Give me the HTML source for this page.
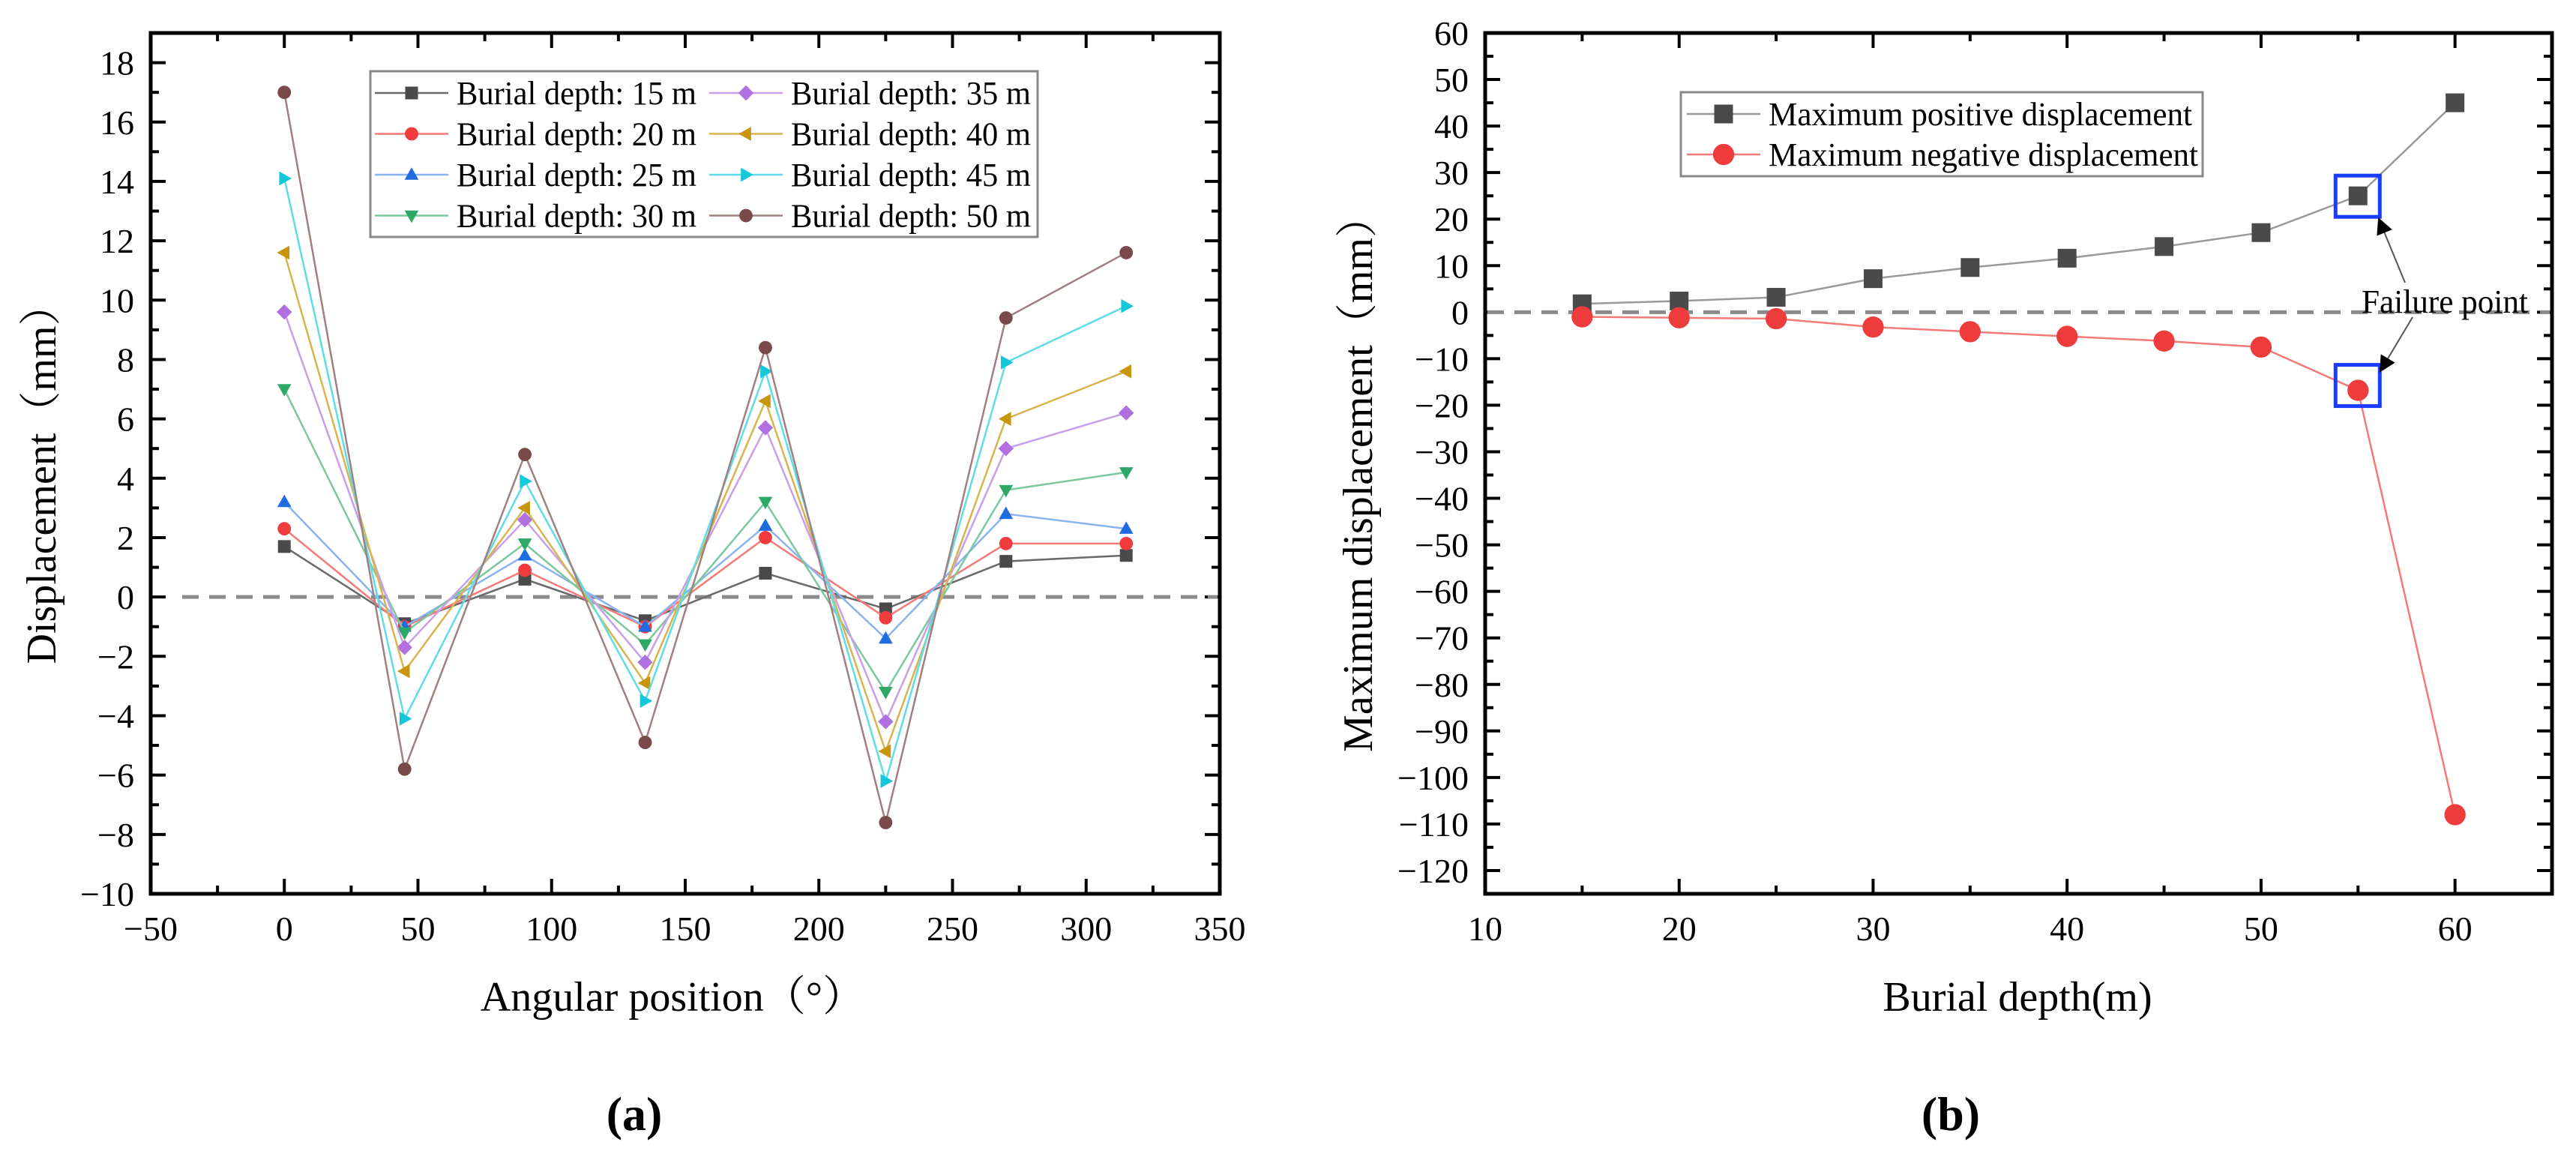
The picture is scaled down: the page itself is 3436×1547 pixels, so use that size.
<!DOCTYPE html>
<html><head><meta charset="utf-8"><style>
html,body{margin:0;padding:0;background:#fff;}
svg{display:block;font-family:"Liberation Serif","Noto Serif CJK SC",serif;}
</style></head><body>
<svg id="fig" width="3436" height="1547" viewBox="0 0 3436 1547" xmlns="http://www.w3.org/2000/svg"></svg>
<script>
// ---- Chart (a) data ----
const anglesA = [0,45,90,135,180,225,270,315];
const labelsA = ["Burial depth: 15 m","Burial depth: 20 m","Burial depth: 25 m","Burial depth: 30 m","Burial depth: 35 m","Burial depth: 40 m","Burial depth: 45 m","Burial depth: 50 m"];
const d15 = [1.7,-0.9,0.6,-0.8,0.8,-0.4,1.2,1.4];
const d20 = [2.3,-1.0,0.9,-1.0,2.0,-0.7,1.8,1.8];
const d25 = [3.2,-1.0,1.4,-1.0,2.4,-1.4,2.8,2.3];
const d30 = [7.0,-1.2,1.8,-1.6,3.2,-3.2,3.6,4.2];
const d35 = [9.6,-1.7,2.6,-2.2,5.7,-4.2,5.0,6.2];
const d40 = [11.6,-2.5,3.0,-2.9,6.6,-5.2,6.0,7.6];
const d45 = [14.1,-4.1,3.9,-3.5,7.6,-6.2,7.9,9.8];
const d50 = [17.0,-5.8,4.8,-4.9,8.4,-7.6,9.4,11.6];
const xTicksA = [-50,0,50,100,150,200,250,300,350];
const yTicksA = [-10,-8,-6,-4,-2,0,2,4,6,8,10,12,14,16,18];
// ---- Chart (b) data ----
const depthsB = [15,20,25,30,35,40,45,50,55,60];
const posB = [1.8,2.4,3.2,7.2,9.6,11.6,14.1,17.1,25,45];
const negB = [-1.0,-1.2,-1.4,-3.2,-4.2,-5.2,-6.2,-7.5,-16.8,-108];
const xTicksB = [10,20,30,40,50,60];
const yTicksB = [-120,-110,-100,-90,-80,-70,-60,-50,-40,-30,-20,-10,0,10,20,30,40,50,60];

const NS="http://www.w3.org/2000/svg";
const svg=document.getElementById('fig');
function el(tag,attrs,parent){const e=document.createElementNS(NS,tag);for(const k in attrs)e.setAttribute(k,attrs[k]);(parent||svg).appendChild(e);return e;}
function txt(s,attrs,parent){const t=el('text',attrs,parent);t.textContent=s;return t;}

// axes A
const A={l:201,r:1627,t:44,b:1192,x0:-50,x1:350,y0:-10,y1:19};
const xA=v=>A.l+(v-A.x0)/(A.x1-A.x0)*(A.r-A.l);
const yA=v=>A.b-(v-A.y0)/(A.y1-A.y0)*(A.b-A.t);
const B={l:1981,r:3404,t:44,b:1192,x0:10,x1:65,y0:-125,y1:60};
const xB=v=>B.l+(v-B.x0)/(B.x1-B.x0)*(B.r-B.l);
const yB=v=>B.b-(v-B.y0)/(B.y1-B.y0)*(B.b-B.t);

function frame(P,name){
  const g=el('g',{});
  
  
  el('rect',{x:P.l,y:P.t,width:P.r-P.l,height:P.b-P.t,fill:'none',stroke:'#000','stroke-width':5},g);
  return g;
}
function tick(g,x1,y1,x2,y2){el('line',{x1,y1,x2,y2,stroke:'#000','stroke-width':4},g);}

function axes(P,fx,fy,xt,yt,xminor,yminor,name){
  const g=frame(P,name);
  const xg=el('g',{});
  
  
  xt.forEach(v=>{const x=fx(v);tick(xg,x,P.b,x,P.b-20);tick(xg,x,P.t,x,P.t+20);
    const t=txt(String(v).replace('-','\u2212'),{x:x,y:1254,'font-size':46,'text-anchor':'middle'},xg);
    });
  xminor.forEach(v=>{const x=fx(v);tick(xg,x,P.b,x,P.b-11);tick(xg,x,P.t,x,P.t+11);});
  const yg=el('g',{});
  
  
  yt.forEach(v=>{const y=fy(v);tick(yg,P.l,y,P.l+20,y);tick(yg,P.r,y,P.r-20,y);
    const t=txt(String(v).replace('-','\u2212'),{x:P.l-22,y:y+16,'font-size':46,'text-anchor':'end'},yg);
    });
  yminor.forEach(v=>{const y=fy(v);tick(yg,P.l,y,P.l+11,y);tick(yg,P.r,y,P.r-11,y);});
}
const xmA=[];for(let v=-25;v<350;v+=50)xmA.push(v);
const ymA=[];for(let v=-9;v<19;v+=2)ymA.push(v);
axes(A,xA,yA,xTicksA,yTicksA,xmA,ymA,'chart-a');
const xmB=[];for(let v=15;v<65;v+=10)xmB.push(v);
const ymB=[];for(let v=-125;v<60;v+=10)ymB.push(v);
axes(B,xB,yB,xTicksB,yTicksB,xmB,ymB,'chart-b');

// zero dashed lines
const z1=el('line',{x1:243,y1:yA(0),x2:A.r-3,y2:yA(0),stroke:'#8a8a8a','stroke-width':5,'stroke-dasharray':'22 14'});


const z2=el('line',{x1:B.l+3,y1:yB(0),x2:B.r-3,y2:yB(0),stroke:'#8a8a8a','stroke-width':5,'stroke-dasharray':'22 14'});



// markers
function marker(g,type,x,y,s,color){
  const h=s/2;
  if(type==='sq')return el('rect',{x:x-h,y:y-h,width:s,height:s,fill:color},g);
  if(type==='ci')return el('circle',{cx:x,cy:y,r:h*1.05,fill:color},g);
  let p;
  if(type==='tu')p=[[x,y-h*1.15],[x+h*1.1,y+h*0.8],[x-h*1.1,y+h*0.8]];
  if(type==='td')p=[[x,y+h*1.15],[x+h*1.1,y-h*0.8],[x-h*1.1,y-h*0.8]];
  if(type==='di')p=[[x,y-h*1.2],[x+h*1.2,y],[x,y+h*1.2],[x-h*1.2,y]];
  if(type==='tl')p=[[x-h*1.15,y],[x+h*0.8,y-h*1.1],[x+h*0.8,y+h*1.1]];
  if(type==='tr')p=[[x+h*1.15,y],[x-h*0.8,y-h*1.1],[x-h*0.8,y+h*1.1]];
  return el('polygon',{points:p.map(q=>q.join(',')).join(' '),fill:color},g);
}

const seriesA=[d15,d20,d25,d30,d35,d40,d45,d50];
const mcol=['#4a4a4a','#f03c3c','#1f6be0','#2ea866','#b070e0','#c8960c','#14c8d8','#7a4a4a'];
const lcol=['#6a6a6a','#f47a7a','#8ab4f0','#7cc89c','#c8a0ea','#d8b450','#60dce6','#a08080'];
const mtype=['sq','ci','tu','td','di','tl','tr','ci'];
seriesA.forEach((d,i)=>{
  const g=el('g',{});
  
  
  el('polyline',{points:anglesA.map((a,j)=>xA(a)+','+yA(d[j])).join(' '),fill:'none',stroke:lcol[i],'stroke-width':2.5},g);
  anglesA.forEach((a,j)=>marker(g,mtype[i],xA(a),yA(d[j]),17,mcol[i]));
});

// legend A
const lg=el('g',{});


el('rect',{x:494,y:95,width:890,height:221,fill:'#fff',stroke:'#888','stroke-width':3},lg);
labelsA.forEach((lab,i)=>{
  const col=Math.floor(i/4),row=i%4;
  const y=124+row*54.5;
  const x0=col?946:500;
  const e=el('g',{},lg);
  
  
  el('line',{x1:x0,y1:y,x2:x0+98,y2:y,stroke:lcol[i],'stroke-width':2.5},e);
  marker(e,mtype[i],x0+49,y,17,mcol[i]);
  txt(lab,{x:x0+109,y:y+15,'font-size':44,textLength:320,lengthAdjust:'spacingAndGlyphs'},e);
});

// series B
const gp=el('g',{});


el('polyline',{points:depthsB.map((d,j)=>xB(d)+','+yB(posB[j])).join(' '),fill:'none',stroke:'#9a9a9a','stroke-width':2.5},gp);
depthsB.forEach((d,j)=>marker(gp,'sq',xB(d),yB(posB[j]),25,'#4a4a4a'));
const gn=el('g',{});


el('polyline',{points:depthsB.map((d,j)=>xB(d)+','+yB(negB[j])).join(' '),fill:'none',stroke:'#f47a7a','stroke-width':2.5},gn);
depthsB.forEach((d,j)=>marker(gn,'ci',xB(d),yB(negB[j]),27,'#ee3c3c'));

// legend B
const lb=el('g',{});


el('rect',{x:2242,y:123,width:696,height:112,fill:'#fff',stroke:'#888','stroke-width':3},lb);
[['Maximum positive displacement','#9a9a9a','#4a4a4a','sq',25],['Maximum negative displacement','#f47a7a','#ee3c3c','ci',27]].forEach((r,i)=>{
  const y=152+i*54;
  const e=el('g',{},lb);
  
  
  el('line',{x1:2250,y1:y,x2:2348,y2:y,stroke:r[1],'stroke-width':2.5},e);
  marker(e,r[3],2299,y,r[4],r[2]);
  txt(r[0],{x:2359,y:y+15,'font-size':44,textLength:i?573:565,lengthAdjust:'spacingAndGlyphs'},e);
});

// failure annotations
const fa=el('g',{});


el('rect',{x:xB(55)-30,y:yB(posB[8])-27,width:59,height:55,fill:'none',stroke:'#1a3cff','stroke-width':5},fa);
el('rect',{x:xB(55)-30,y:yB(negB[8])-34,width:59,height:55,fill:'none',stroke:'#1a3cff','stroke-width':5},fa);
el('defs',{},fa).innerHTML='<marker id="ah" markerWidth="10" markerHeight="10" refX="9" refY="5" orient="auto" markerUnits="userSpaceOnUse" viewBox="0 0 10 10"><path d="M0,0 L10,5 L0,10 z" fill="#000"/></marker>';
el('line',{x1:3208,y1:377,x2:3173,y2:292,stroke:'#555','stroke-width':2,'marker-end':'url(#ah)'},fa);
el('line',{x1:3218,y1:423,x2:3175,y2:495,stroke:'#555','stroke-width':2,'marker-end':'url(#ah)'},fa);
fa.querySelectorAll('marker').forEach(m=>{m.setAttribute('markerWidth',26);m.setAttribute('markerHeight',22);});
txt('Failure point',{x:3150,y:417,'font-size':44,textLength:222,lengthAdjust:'spacingAndGlyphs'},fa);

// titles
function title(s,attrs,name){const t=txt(s,attrs);}
title('Displacement（mm）',{x:0,y:0,'font-size':56,'text-anchor':'middle',transform:'translate(74,632) rotate(-90)'},'y-axis-title-a');
title('Angular position（°）',{x:897,y:1348,'font-size':56,'text-anchor':'middle'},'x-axis-title-a');
title('(a)',{x:846,y:1507,'font-size':64,'text-anchor':'middle','font-weight':'bold'},'panel-label-a');
title('Maximum displacement（mm）',{x:0,y:0,'font-size':56,'text-anchor':'middle',transform:'translate(1830,632) rotate(-90)'},'y-axis-title-b');
title('Burial depth(m)',{x:2691,y:1348,'font-size':56,'text-anchor':'middle'},'x-axis-title-b');
title('(b)',{x:2602,y:1507,'font-size':64,'text-anchor':'middle','font-weight':'bold'},'panel-label-b');
</script>
</body></html>
